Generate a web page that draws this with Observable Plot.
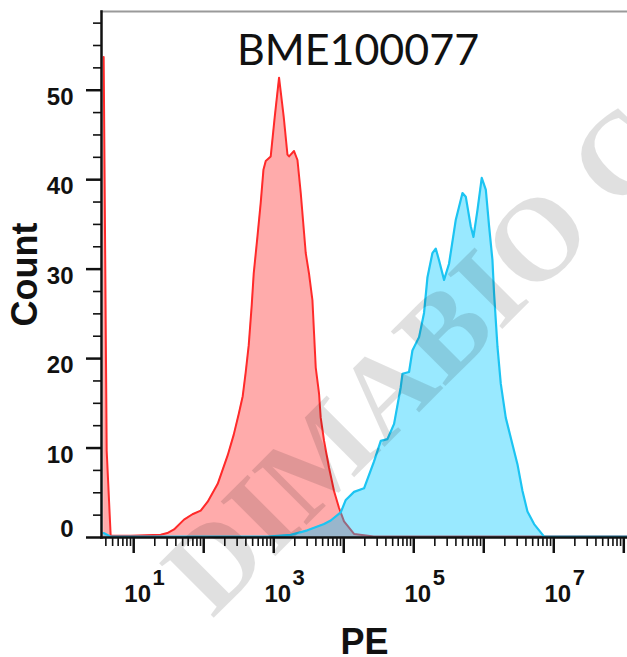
<!DOCTYPE html>
<html>
<head>
<meta charset="utf-8">
<script src="https://cdn.jsdelivr.net/npm/d3@7"></script>
<script src="https://cdn.jsdelivr.net/npm/@observablehq/plot@0.6"></script>
<style>
  html, body { margin: 0; padding: 0; background: #fff; }
  #chart svg { display: block; }
</style>
</head>
<body>
<div id="chart"></div>
<script>
// ---- data (x as log10 of PE intensity) ----
const isotypeLog = [0.571, 0.614, 0.671, 0.957, 1.386, 1.481, 1.576, 1.719, 1.839, 1.957, 2.057, 2.2, 2.343, 2.429, 2.5, 2.557, 2.6, 2.643, 2.686, 2.714, 2.767, 2.814, 2.853, 2.886, 2.957, 3.014, 3.076, 3.143, 3.196, 3.219, 3.29, 3.339, 3.386, 3.457, 3.504, 3.553, 3.576, 3.6, 3.647, 3.671, 3.719, 3.79, 3.861, 3.933, 4.004, 4.147, 4.429, 8.06];
const isotypeCount = [53.7, 9.7, 0.2, 0.2, 0.3, 0.5, 0.9, 2.0, 2.6, 3.0, 4.0, 6.0, 9.2, 11.5, 13.8, 15.8, 18.5, 21.5, 26, 29.5, 33.6, 37.4, 41.1, 42.1, 42.6, 47, 51.4, 47, 42.8, 42.6, 43.2, 42.2, 38.5, 31.8, 29.5, 26.5, 22.8, 19.0, 16.1, 13.4, 10.8, 7.8, 5.2, 3.3, 1.8, 0.4, 0.1, 0.1];

const sampleLog = [0.571, 0.671, 2.914, 3.243, 3.481, 3.719, 3.814, 3.957, 4.029, 4.147, 4.29, 4.433, 4.529, 4.624, 4.719, 4.814, 4.839, 4.933, 4.981, 5.076, 5.147, 5.196, 5.267, 5.314, 5.361, 5.433, 5.504, 5.6, 5.696, 5.743, 5.814, 5.853, 5.91, 5.971, 6.029, 6.076, 6.124, 6.147, 6.196, 6.243, 6.314, 6.41, 6.481, 6.553, 6.624, 6.719, 6.862, 8.06];
const sampleCount = [0.5, 0.1, 0.1, 0.3, 0.8, 1.5, 1.9, 2.8, 4.2, 5.1, 5.5, 8.5, 10.8, 11.0, 12.7, 16.8, 18.3, 18.5, 20.9, 22.4, 25.1, 29.1, 31.8, 32.3, 31.0, 28.8, 30.6, 35.5, 38.5, 38.1, 34.8, 33.6, 36.6, 40.2, 38.9, 34.8, 31.0, 27.3, 21.3, 17.2, 13.4, 10.4, 8.2, 5.2, 2.9, 1.5, 0.1, 0.1];

const yMajorTicks = [0, 10, 20, 30, 40, 50];
const yMinorTicks = [2.5, 5, 7.5, 12.5, 15, 17.5, 22.5, 25, 27.5, 32.5, 35, 37.5, 42.5, 45, 47.5, 52.5, 55, 57.5];
const xDecades = [1, 2, 3, 4, 5, 6, 7, 8];
const xLabelDecades = [1, 3, 5, 7];
const xMinorMultipliers = [2, 3, 4, 5, 6, 7, 8, 9];
const titleText = "BME100077";
const xTitle = "PE";
const yTitle = "Count";
const watermarkText = "DIMABIO C";

// ---- tables ----
const isotype = isotypeLog.map((l, i) => ({pe: 10 ** l, count: isotypeCount[i]}));
const sample = sampleLog.map((l, i) => ({pe: 10 ** l, count: sampleCount[i]}));
const xMinor = [];
for (let k = 0; k <= 7; k++) for (const m of xMinorMultipliers) {
  const v = m * 10 ** k;
  if (v >= 10 ** 0.54 && v <= 10 ** 8.053) xMinor.push(v);
}
const xMajor = xDecades.map(d => 10 ** d);

const bold = {fontWeight: "bold", fill: "#111"};

const chart = Plot.plot({
  width: 627,
  height: 657,
  marginLeft: 101,
  marginRight: 0,
  marginTop: 11,
  marginBottom: 120,
  style: {fontFamily: "'Liberation Sans', Arial, sans-serif", background: "#fff", color: "#111"},
  x: {type: "log", domain: [10 ** 0.54, 10 ** 8.053]},
  y: {domain: [0, 58.8]},
  marks: [
    // histograms
    Plot.areaY(isotype, {x: "pe", y: "count", fill: "#ff0000", fillOpacity: 0.33}),
    Plot.lineY(isotype, {x: "pe", y: "count", stroke: "#ff2a2a", strokeWidth: 2}),
    Plot.areaY(sample, {x: "pe", y: "count", fill: "#00c8ff", fillOpacity: 0.4}),
    Plot.lineY(sample, {x: "pe", y: "count", stroke: "#1cc4f2", strokeWidth: 2.2}),
    // frame lines
    Plot.frame({anchor: "top", stroke: "#9a9a9a", strokeWidth: 2}),
    Plot.frame({anchor: "left", stroke: "#111", strokeWidth: 2.5}),
    Plot.frame({anchor: "bottom", stroke: "#111", strokeWidth: 2.5}),
    // y ticks
    Plot.axisY(yMajorTicks, {tickSize: 15, strokeWidth: 2.5, fill: "none", label: null}),
    Plot.axisY(yMinorTicks, {tickSize: 8, strokeWidth: 1.6, fill: "none", label: null}),
    Plot.axisY(yMajorTicks.filter(v => v > 0), {stroke: "none", tickSize: 15, tickPadding: 13, dy: 7, fontSize: 24, ...bold, label: null}),
    Plot.axisY(yMajorTicks.filter(v => v === 0), {stroke: "none", tickSize: 15, tickPadding: 13, dy: -8, fontSize: 24, ...bold, label: null}),
    // x ticks
    Plot.axisX(xMajor, {tickSize: 16, strokeWidth: 2.5, fill: "none", label: null}),
    Plot.axisX(xMinor, {tickSize: 9, strokeWidth: 1.6, fill: "none", label: null}),
    // x tick labels 10^k
    Plot.text(xLabelDecades, {x: d => 10 ** d, text: () => "10", frameAnchor: "bottom", lineAnchor: "middle", textAnchor: "middle", dx: 4, dy: 57, fontSize: 24, ...bold}),
    Plot.text(xLabelDecades, {x: d => 10 ** d, text: d => String(d), frameAnchor: "bottom", lineAnchor: "middle", textAnchor: "middle", dx: 25, dy: 40.5, fontSize: 22, ...bold}),
    // axis titles
    Plot.text([xTitle], {text: d => d, frameAnchor: "bottom", lineAnchor: "middle", textAnchor: "middle", dy: 104.5, fontSize: 36, ...bold}),
    Plot.text([yTitle], {text: d => d, frameAnchor: "left", lineAnchor: "middle", textAnchor: "middle", dx: -76.5, rotate: -90, fontSize: 36, ...bold}),
    // chart title inside the frame
    Plot.text([titleText], {text: d => d, frameAnchor: "top", lineAnchor: "middle", textAnchor: "middle", dx: -6.5, dy: 40, fontSize: 43, fontFamily: "Lato, 'Open Sans', sans-serif", fill: "#111"}),
    // watermark
    Plot.text([watermarkText], {text: d => d, frameAnchor: "top-left", lineAnchor: "middle", textAnchor: "start", dx: 84, dy: 581, rotate: -45, fontSize: 118, fontFamily: "'Liberation Serif', 'DejaVu Serif', serif", fontWeight: "bold", fill: "#000", fillOpacity: 0.12})
  ]
});
document.getElementById("chart").appendChild(chart);
</script>
</body>
</html>
